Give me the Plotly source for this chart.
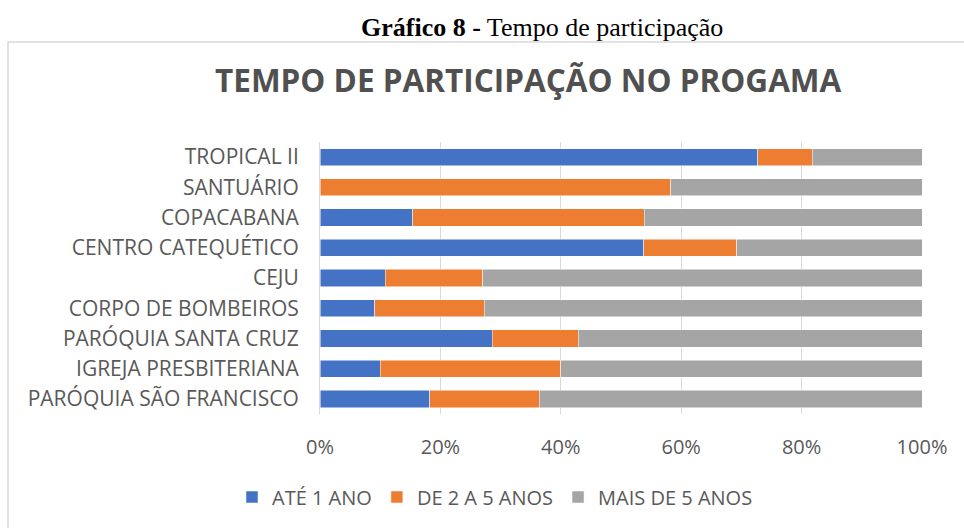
import plotly.graph_objects as go

categories = ["TROPICAL II", "SANTUÁRIO", "COPACABANA", "CENTRO CATEQUÉTICO", "CEJU",
              "CORPO DE BOMBEIROS", "PARÓQUIA SANTA CRUZ", "IGREJA PRESBITERIANA",
              "PARÓQUIA SÃO FRANCISCO"]
ate_1_ano = [72.7, 0.0, 15.4, 53.8, 10.8, 9.1, 28.6, 10.0, 18.2]
de_2_a_5 = [9.1, 58.3, 38.5, 15.4, 16.2, 18.2, 14.3, 30.0, 18.2]
mais_de_5 = [18.2, 41.7, 46.1, 30.8, 73.0, 72.7, 57.1, 60.0, 63.6]
series_names = ["ATÉ 1 ANO", "DE 2 A 5 ANOS", "MAIS DE 5 ANOS"]
colors = ["#4472C4", "#ED7D31", "#A5A5A5"]

fig = go.Figure()
for name, vals, c in zip(series_names, [ate_1_ano, de_2_a_5, mais_de_5], colors):
    fig.add_trace(go.Bar(y=categories, x=[v / 100 for v in vals], name=name, orientation="h",
                         marker=dict(color=c, line=dict(color="white", width=0.5))))

W, H = 964, 528
L, R, T, B = 320, 42, 142, 114
pw, ph = W - L - R, H - T - B

def px(x):
    return (x - L) / pw

def py(y):
    return (H - B - y) / ph

font = "Open Sans, Liberation Sans, sans-serif"
fig.update_layout(
    width=W, height=H, barmode="stack", bargap=0.43,
    margin=dict(l=L, r=R, t=T, b=B),
    paper_bgcolor="white", plot_bgcolor="white",
    font=dict(family=font, size=20, color="#595959"),
    xaxis=dict(range=[0, 1], tickformat=".0%", dtick=0.2, showgrid=True, gridcolor="#D9D9D9",
               gridwidth=1, zeroline=False, ticks="outside", ticklen=15, tickcolor="rgba(0,0,0,0)",
               tickfont=dict(size=20, color="#595959")),
    yaxis=dict(autorange="reversed", showline=True, linecolor="#D9D9D9", linewidth=1,
               ticks="outside", ticklen=16, tickcolor="rgba(0,0,0,0)",
               tickfont=dict(size=21, color="#595959")),
    legend=dict(orientation="h", x=px(495), xanchor="center", y=py(497), yanchor="middle",
                font=dict(size=20, color="#595959"), traceorder="normal", itemwidth=30),
    showlegend=True,
)
fig.add_shape(type="rect", xref="paper", yref="paper", x0=px(8), x1=px(975), y0=py(540), y1=py(42),
              line=dict(color="#D9D9D9", width=1.5), fillcolor="rgba(0,0,0,0)", layer="below")
fig.add_annotation(xref="paper", yref="paper", x=px(542), y=py(28), showarrow=False,
                   xanchor="center", yanchor="middle",
                   text="<b>Gráfico 8 -</b> Tempo de participação",
                   font=dict(family="Liberation Serif, Times New Roman, serif", size=26, color="black"))
fig.add_annotation(xref="paper", yref="paper", x=px(528), y=py(80), showarrow=False,
                   xanchor="center", yanchor="middle",
                   text="<b>TEMPO DE PARTICIPAÇÃO NO PROGAMA</b>",
                   font=dict(family=font, size=31.5, color="#505050"))

fig.write_html("out.html", post_script="document.body.style.margin='0';",
               config={"displayModeBar": False})
